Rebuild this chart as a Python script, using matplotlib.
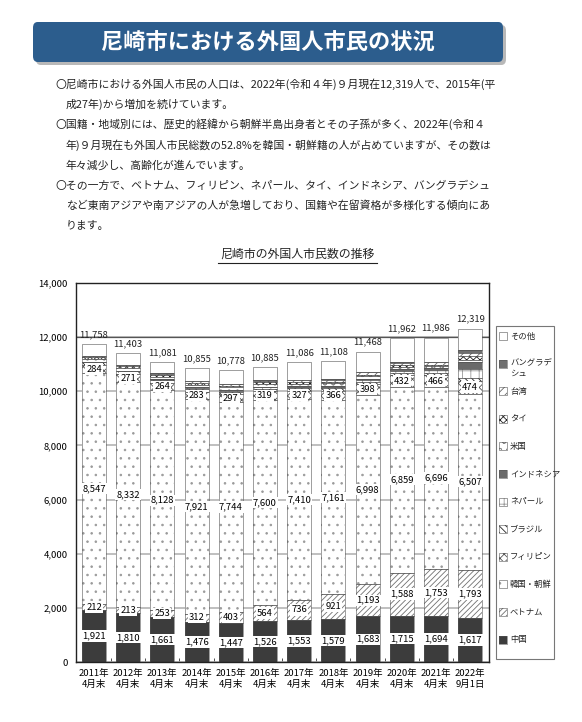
import matplotlib
matplotlib.use("Agg")
import matplotlib.pyplot as plt
from matplotlib.patches import FancyBboxPatch, Rectangle
from matplotlib.ticker import FuncFormatter, MultipleLocator
import numpy as np

plt.rcParams['font.family'] = ['Noto Sans CJK JP', 'DejaVu Sans']
plt.rcParams['hatch.linewidth'] = 0.6

W, H = 582, 722

years = ['2011年\n4月末', '2012年\n4月末', '2013年\n4月末', '2014年\n4月末', '2015年\n4月末',
         '2016年\n4月末', '2017年\n4月末', '2018年\n4月末', '2019年\n4月末', '2020年\n4月末',
         '2021年\n4月末', '2022年\n9月1日']
totals = [11758, 11403, 11081, 10855, 10778, 10885, 11086, 11108, 11468, 11962, 11986, 12319]

# labelled series
china = [1921, 1810, 1661, 1476, 1447, 1526, 1553, 1579, 1683, 1715, 1694, 1617]
vietnam = [212, 213, 253, 312, 403, 564, 736, 921, 1193, 1588, 1753, 1793]
korea = [8547, 8332, 8128, 7921, 7744, 7600, 7410, 7161, 6998, 6859, 6696, 6507]
philippines = [284, 271, 264, 283, 297, 319, 327, 366, 398, 432, 466, 474]
# unlabelled series
brazil = [110, 105, 100, 100, 98, 92, 88, 85, 82, 80, 78, 100]
nepal = [10, 12, 15, 30, 35, 40, 45, 50, 60, 80, 85, 330]
indonesia = [15, 15, 18, 25, 30, 35, 40, 45, 55, 70, 70, 260]
usa = [95, 100, 95, 95, 90, 90, 85, 85, 85, 85, 80, 90]
thai = [60, 60, 58, 60, 62, 60, 60, 58, 60, 65, 65, 120]
taiwan = [55, 60, 62, 65, 68, 70, 70, 75, 80, 85, 85, 110]
bangladesh = [9, 10, 10, 12, 12, 12, 12, 15, 18, 20, 22, 110]
others = [440, 415, 417, 476, 492, 477, 660, 668, 756, 883, 892, 808]

series = [
    ('中国', china, '#3c3c3c', '', '#3c3c3c', True),
    ('ベトナム', vietnam, 'white', '//////', '#707070', True),
    ('韓国・朝鮮', korea, 'white', '..', '#9a9a9a', True),
    ('フィリピン', philippines, 'white', 'xxxx', '#555555', True),
    ('ブラジル', brazil, 'white', '\\\\\\\\\\', '#222222', False),
    ('ネパール', nepal, 'white', '++', '#9a9a9a', False),
    ('インドネシア', indonesia, '#6a6a6a', '', '#6a6a6a', False),
    ('米国', usa, 'white', 'oo', '#8a8a8a', False),
    ('タイ', thai, 'white', 'xxxxx', '#222222', False),
    ('台湾', taiwan, 'white', '////', '#666666', False),
    ('バングラデシュ', bangladesh, '#707070', '', '#707070', False),
    ('その他', others, 'white', '', '#888888', False),
]


def fx(x):
    return x / W


def fy(y):
    return 1 - y / H


fig = plt.figure(figsize=(W / 100, H / 100), dpi=100)

# title banner
fig.patches.append(FancyBboxPatch((fx(36), fy(65)), fx(503 - 33), (62 - 22) / H,
                                  boxstyle='round,pad=0,rounding_size=0.008',
                                  transform=fig.transFigure, facecolor='#b8b8b8',
                                  edgecolor='none', zorder=0))
fig.patches.append(FancyBboxPatch((fx(33), fy(62)), fx(503 - 33), (62 - 22) / H,
                                  boxstyle='round,pad=0,rounding_size=0.008',
                                  transform=fig.transFigure, facecolor='#2c5d8d',
                                  edgecolor='none', zorder=1))
fig.text(fx(268), fy(43), '尼崎市における外国人市民の状況', color='white', fontsize=16,
         fontweight='bold', ha='center', va='center', zorder=2)

body = [
    (55, 84, '〇尼崎市における外国人市民の人口は、2022年(令和４年)９月現在12,319人で、2015年(平'),
    (66, 104, '成27年)から増加を続けています。'),
    (55, 124, '〇国籍・地域別には、歴史的経緯から朝鮮半島出身者とその子孫が多く、2022年(令和４'),
    (66, 145, '年)９月現在も外国人市民総数の52.8%を韓国・朝鮮籍の人が占めていますが、その数は'),
    (66, 165, '年々減少し、高齢化が進んでいます。'),
    (55, 186, '〇その一方で、ベトナム、フィリピン、ネパール、タイ、インドネシア、バングラデシュ'),
    (66, 206, 'など東南アジアや南アジアの人が急増しており、国籍や在留資格が多様化する傾向にあ'),
    (66, 226, 'ります。'),
]
for x, y, s in body:
    fig.text(fx(x), fy(y), s, fontsize=7.8, ha='left', va='center', color='#222222')

fig.text(fx(297), fy(254), '尼崎市の外国人市民数の推移', fontsize=8.6, ha='center', va='center',
         color='#222222')
fig.add_artist(plt.Line2D([fx(218), fx(377)], [fy(263), fy(263)], color='#222222', lw=0.8,
                          transform=fig.transFigure))

ax = fig.add_axes([fx(76), fy(662), fx(489 - 76), (662 - 283) / H])
x = np.arange(len(years))
bw = 0.7
bottom = np.zeros(len(years))
for name, vals, fc, hatch, hc, labelled in series:
    vals = np.array(vals, dtype=float)
    ax.bar(x, vals, bw, bottom=bottom, color=fc, hatch=hatch, edgecolor=hc, linewidth=0, zorder=2)
    ax.bar(x, vals, bw, bottom=bottom, fill=False, edgecolor='#555555', linewidth=0.4, zorder=3)
    if labelled:
        for xi, v, b in zip(x, vals, bottom):
            ax.text(xi, b + v / 2, f'{int(v):,}', ha='center', va='center', fontsize=6.8,
                    zorder=5, bbox=dict(facecolor='white', edgecolor='none', pad=0.8))
    bottom += vals

for xi, t in zip(x, totals):
    ax.annotate(f'{t:,}', (xi, t), xytext=(0, 3.5), textcoords='offset points', ha='center',
                va='bottom', fontsize=6.8, color='#222222')

ax.set_xlim(-0.526, 11.55)
ax.set_ylim(0, 14000)
ax.yaxis.set_major_locator(MultipleLocator(2000))
ax.yaxis.set_major_formatter(FuncFormatter(lambda v, p: f'{int(v):,}'))
ax.yaxis.grid(True, color='#b4b4b4', lw=1.2, zorder=0)
ax.axhline(12000, color='#555555', lw=0.9, zorder=1)
ax.set_axisbelow(True)
ax.set_xticks(x)
ax.set_xticklabels(years, fontsize=6.8, linespacing=1.25)
ax.set_xticks(x[:-1] + 0.5, minor=True)
ax.tick_params(axis='x', which='major', length=0, pad=5)
ax.tick_params(axis='x', which='minor', length=3, direction='in', color='#333333')
ax.tick_params(axis='y', length=0, pad=6, labelsize=6.8)
for s in ax.spines.values():
    s.set_color('#222222')
    s.set_linewidth(1.0)

# legend box
fig.patches.append(Rectangle((fx(496), fy(659)), fx(554 - 496), (659 - 326) / H,
                             transform=fig.transFigure, fill=False, edgecolor='#777777', lw=0.8))
for i, (name, vals, fc, hatch, hc, labelled) in enumerate(series[::-1]):
    y = 336 + i * 27.6
    fig.patches.append(Rectangle((fx(499), fy(y + 4)), fx(8), 8 / H, transform=fig.transFigure,
                                 facecolor=fc, hatch=hatch, edgecolor=hc, lw=0))
    fig.patches.append(Rectangle((fx(499), fy(y + 4)), fx(8), 8 / H, transform=fig.transFigure,
                                 fill=False, edgecolor='#555555', lw=0.4))
    label = 'バングラデ\nシュ' if name == 'バングラデシュ' else name
    va = 'top' if '\n' in label else 'center'
    yy = y - 6 if '\n' in label else y
    fig.text(fx(510), fy(yy), label, fontsize=6.0, ha='left', va=va, color='#222222',
             linespacing=1.3)

fig.savefig('out.png', dpi=100)
